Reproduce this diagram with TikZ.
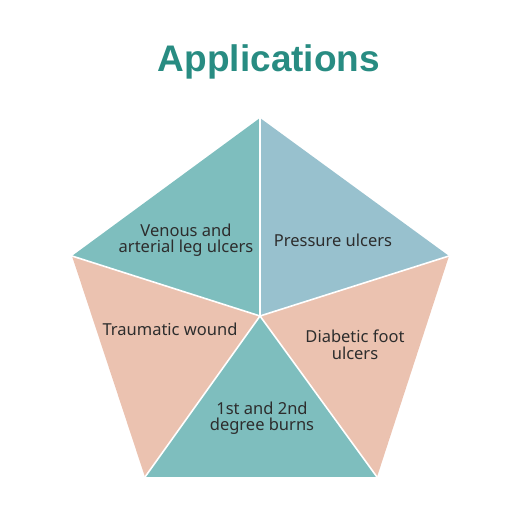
\documentclass[tikz,border=0pt]{standalone}
\usepackage{fontspec}
\setmainfont{Noto Sans}
\newfontfamily\titlefont{Liberation Sans}
\definecolor{tealA}{RGB}{126,190,190}
\definecolor{blueA}{RGB}{152,193,206}
\definecolor{salmonA}{RGB}{235,194,176}
\definecolor{titleC}{RGB}{40,140,130}
\definecolor{txtC}{RGB}{45,45,45}
\tikzset{
  sector/.style={draw=white, line width=1.6pt, line join=round},
  lbl/.style={text=txtC, font=\fontsize{16.5}{16.5}\selectfont, align=center, inner sep=0pt}
}
\begin{document}
\begin{tikzpicture}[x=1pt,y=1pt]
\useasboundingbox (0,0) rectangle (522,522);
\coordinate (T) at (260,404);
\coordinate (L) at (72,266);
\coordinate (R) at (449,266);
\coordinate (BL) at (145,45);
\coordinate (BR) at (377,45);
\coordinate (C) at (260,206);
\fill[salmonA] (L) -- (C) -- (BL) -- cycle;
\fill[salmonA] (R) -- (C) -- (BR) -- cycle;
\fill[tealA] (T) -- (L) -- (C) -- cycle;
\fill[blueA] (T) -- (R) -- (C) -- cycle;
\fill[tealA] (C) -- (BL) -- (BR) -- cycle;
\draw[sector] (T) -- (C) (L) -- (C) (R) -- (C) (BL) -- (C) (BR) -- (C);
\node (title) at (269,460) {\titlefont\fontsize{37}{40}\selectfont\bfseries\color{titleC}Applications};
\node[lbl] (venous) at (186,282) {Venous and\\arterial leg ulcers};
\node[lbl] (pressure) at (333,282) {Pressure ulcers};
\node[lbl] (trauma) at (170,193) {Traumatic wound};
\node[lbl] (diabetic) at (355,177) {Diabetic foot\\ulcers};
\node[lbl] (burns) at (262,104) {1st and 2nd\\degree burns};
\end{tikzpicture}
\end{document}
